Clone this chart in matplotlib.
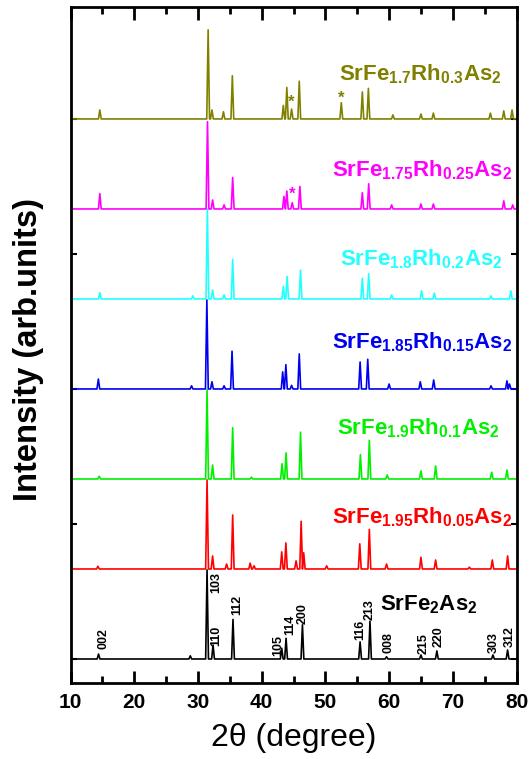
import numpy as np
import matplotlib
matplotlib.use('Agg')
import matplotlib.pyplot as plt

plt.rcParams['font.family'] = ['Liberation Sans', 'DejaVu Sans']
plt.rcParams['font.weight'] = 'bold'
plt.rcParams['mathtext.fontset'] = 'custom'
plt.rcParams['mathtext.rm'] = 'Liberation Sans:bold'
plt.rcParams['mathtext.it'] = 'Liberation Sans:bold'
plt.rcParams['mathtext.bf'] = 'Liberation Sans:bold'

# peak positions (2theta) and heights (arb. units)
pos_x0 = [14.4, 28.8, 31.43, 32.37, 35.5, 43.15, 43.83, 46.4, 55.45, 57.0, 59.6, 65.0, 67.5, 76.3, 78.6]
hgt_x0 = [5.5, 3.5, 99, 15.5, 44, 12, 23, 38, 19, 42, 2.5, 4.5, 9, 4.5, 10]

pos_x05 = [14.3, 31.43, 32.3, 34.5, 35.45, 38.2, 38.8, 43.15, 43.8, 45.4, 46.2, 46.6, 50.2, 55.4, 56.9,
           59.6, 65.0, 67.3, 72.6, 76.2, 78.6]
hgt_x05 = [3, 99, 14.5, 5.5, 60, 6.5, 3.5, 19, 29, 9, 53, 18, 3.5, 28, 44, 5.5, 13, 10, 2, 10, 14.5]

pos_x10 = [14.5, 31.43, 32.3, 35.45, 38.4, 43.2, 43.83, 46.1, 55.5, 56.9, 59.7, 65.0, 67.3, 76.1, 78.5]
hgt_x10 = [3, 99, 15.5, 57, 2, 17, 29, 52, 27, 43, 4.5, 9, 14.5, 7.5, 10]

pos_x15 = [14.37, 29.0, 31.4, 32.2, 34.1, 35.35, 43.3, 43.8, 44.7, 45.9, 55.45, 56.65, 60.0, 64.9, 67.0,
           76.0, 78.5, 78.9]
hgt_x15 = [11, 3.5, 99, 8, 3.5, 42, 19, 27, 4, 39, 30, 33, 5.5, 8, 10, 3.5, 9, 5.5]

pos_x20 = [14.6, 29.2, 31.48, 32.3, 34.1, 35.45, 43.4, 44.0, 46.1, 55.8, 56.8, 60.4, 65.1, 67.1, 76.0, 79.1]
hgt_x20 = [7, 3.5, 100, 10, 4.5, 44, 14, 25, 32, 23, 28, 4.5, 9, 6.5, 3.5, 9]

pos_x25 = [14.6, 31.5, 32.3, 34.1, 35.45, 43.5, 43.95, 44.8, 46.0, 55.8, 56.8, 60.4, 65.0, 66.95, 78.0, 79.4]
hgt_x25 = [17, 97, 10, 4.5, 35, 14, 20, 7, 25, 18, 28, 4.5, 5.5, 5.5, 9, 4.5]

pos_x30 = [14.6, 31.6, 32.2, 34.0, 35.4, 43.4, 43.95, 44.7, 45.9, 52.5, 55.8, 56.75, 60.6, 65.0, 66.95,
           75.9, 78.0, 79.3]
hgt_x30 = [10, 99, 10, 8, 48, 15, 35, 11, 42, 18, 30, 34, 4.5, 5.5, 6.5, 6.5, 9, 10]

labels = [r'SrFe$_2$As$_2$',
          r'SrFe$_{1.95}$Rh$_{0.05}$As$_2$',
          r'SrFe$_{1.9}$Rh$_{0.1}$As$_2$',
          r'SrFe$_{1.85}$Rh$_{0.15}$As$_2$',
          r'SrFe$_{1.8}$Rh$_{0.2}$As$_2$',
          r'SrFe$_{1.75}$Rh$_{0.25}$As$_2$',
          r'SrFe$_{1.7}$Rh$_{0.3}$As$_2$']
colors = ['black', '#ff0000', '#00f000', '#0000f0', '#22ffff', '#ff00ff', '#808000']
offsets = [0, 100, 200, 300, 400, 500, 600]

# label anchor (centre x, height above own baseline)
label_x = [66.2, 65.18, 64.63, 65.18, 65.02, 65.1, 64.87]
label_y = [54, 51, 50, 45, 37, 36, 43]

hkl = ['002', '103', '110', '112', '105', '114', '200', '116', '213', '008', '215', '220', '303', '312']
hkl_x = [15.15, 32.95, 32.95, 36.1, 42.6, 44.45, 46.45, 55.45, 57.0, 59.9, 65.4, 67.7, 76.4, 78.9]
hkl_y = [11, 73, 14, 49, 3, 27, 39, 21, 43, 7, 6, 13, 7, 13]

stars_x = [44.7, 52.5, 44.8]
stars_y = [618, 623, 516]
stars_c = ['#808000', '#808000', '#ff00ff']

series = [(pos_x0, hgt_x0), (pos_x05, hgt_x05), (pos_x10, hgt_x10), (pos_x15, hgt_x15),
          (pos_x20, hgt_x20), (pos_x25, hgt_x25), (pos_x30, hgt_x30)]


def trace(pos, hgt, w=0.22):
    xs, ys = [10], [0]
    for p, h in zip(pos, hgt):
        xs += [p - w, p, p + w]
        ys += [0, h, 0]
    xs.append(80)
    ys.append(0)
    return np.array(xs), np.array(ys)


fig = plt.figure(figsize=(5.29, 7.59), dpi=100)
ax = fig.add_axes([0.1333, 0.1001, 0.8431, 0.8907])

for (pos, hgt), c, off, lab, lx, ly in zip(series, colors, offsets, labels, label_x, label_y):
    xs, ys = trace(pos, hgt)
    ax.plot(xs, ys + off, color=c, lw=1.2)
    ax.text(lx, off + ly, lab, color=c, fontsize=16, ha='center', va='baseline')

for t, x, y in zip(hkl, hkl_x, hkl_y):
    ax.text(x, y, t, rotation=90, ha='center', va='bottom', fontsize=9)

for x, y, c in zip(stars_x, stars_y, stars_c):
    ax.text(x, y, '*', color=c, ha='center', va='center', fontsize=12)

ax.set_xlim(10, 80)
ax.set_ylim(-26.7, 724.4)
ax.set_xticks(np.arange(10, 81, 10))
ax.set_xticks(np.arange(15, 80, 10), minor=True)
ax.set_yticks([0, 150, 300, 450, 600])
ax.set_yticklabels([])
ax.tick_params(axis='x', which='major', direction='in', length=9, width=2, top=True, labelsize=15, pad=7)
ax.tick_params(axis='x', which='minor', direction='in', length=5, width=2, top=True)
ax.tick_params(axis='y', direction='in', length=4, width=1.5, right=True)
for s in ax.spines.values():
    s.set_linewidth(2)

ax.set_xlabel('2θ (degree)', fontsize=23, labelpad=8)
fig.text(29 / 529, 1 - 350 / 759, 'Intensity (arb.units)', rotation=90, ha='center', va='center', fontsize=23.5)

fig.savefig('out.png', dpi=100)
